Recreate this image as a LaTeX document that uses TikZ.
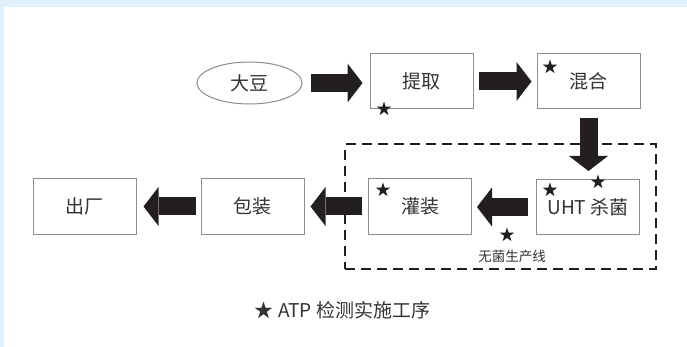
\documentclass[tikz,border=0pt]{standalone}
\usepackage{fontspec}
\newfontfamily\cjk{Noto Sans CJK SC}
\usetikzlibrary{shapes.geometric,arrows.meta}
\definecolor{bgblue}{HTML}{E1EFFA}
\definecolor{txt}{HTML}{333333}
\definecolor{edgec}{HTML}{8C8C8C}
\definecolor{arrowc}{HTML}{231F20}
\begin{document}
\begin{tikzpicture}[x=1pt,y=-1pt,
  box/.style={draw=edgec, line width=1pt, minimum width=103pt, minimum height=55pt, inner sep=0pt, font={\cjk\fontsize{19}{19}\selectfont}, text=txt},
  oval/.style={ellipse, draw=edgec, line width=1pt, minimum width=105pt, minimum height=42pt, inner sep=0pt, font={\cjk\fontsize{19}{19}\selectfont}, text=txt},
  bigarrow/.style={draw=arrowc, line width=18pt, -{Triangle[width=39pt,length=15pt,line width=0pt]}},
  astar/.style={star, star points=5, star point ratio=2.6, fill=arrowc, inner sep=0pt, minimum size=15pt},
  zone/.style={draw=arrowc, line width=2.5pt, dash pattern=on 10pt off 6pt, minimum width=311pt, minimum height=124.5pt, inner sep=0pt}
]
\useasboundingbox (0,0) rectangle (687,347);
\fill[bgblue] (0,0) rectangle (687,347);
\fill[white] (4,7) rectangle (687,347);

% aseptic zone
\node[zone] (aseptic) at (500.5,206.5) {};

% process nodes
\node[oval] (dou) at (249.5,83) {大豆};
\node[box] (tq) at (421.5,81.5) {提取};
\node[box] (hh) at (588.5,81.5) {混合};
\node[box] (uht) at (588,207) {UHT 杀菌};
\node[box] (gz) at (420,206.5) {灌装};
\node[box] (bz) at (252.5,206.5) {包装};
\node[box] (cc) at (84.5,206.5) {出厂};

% arrows
\draw[bigarrow, shorten <=8pt, shorten >=7pt] (dou.east) -- (dou.east -| tq.west);
\draw[bigarrow, shorten <=5pt, shorten >=5pt] (tq.east) -- (tq.east -| hh.west);
\draw[bigarrow, shorten <=9pt, shorten >=8pt] (hh.south) -- (hh.south |- uht.north);
\draw[bigarrow, shorten <=8pt, shorten >=5pt] (uht.west) -- (uht.west -| gz.east);
\draw[bigarrow, shorten <=6pt, shorten >=6pt] (gz.west) -- (gz.west -| bz.east);
\draw[bigarrow, shorten <=5pt, shorten >=7pt] (bz.west) -- (bz.west -| cc.east);

% ATP stars
\node[astar] (s1) at (384,109) {};
\node[astar] (s2) at (550,67) {};
\node[astar] (s3) at (383,190) {};
\node[astar] (s4) at (550,190) {};
\node[astar] (s5) at (598,182) {};
\node[astar] (s6) at (507,235) {};

\node[font={\cjk\fontsize{13.5}{13.5}\selectfont}, text=txt] (zlabel) at (512,256) {无菌生产线};

% legend
\node[font={\cjk\fontsize{19}{19}\selectfont}, text=txt] (legend) at (342.5,310) {★ ATP 检测实施工序};
\end{tikzpicture}
\end{document}
